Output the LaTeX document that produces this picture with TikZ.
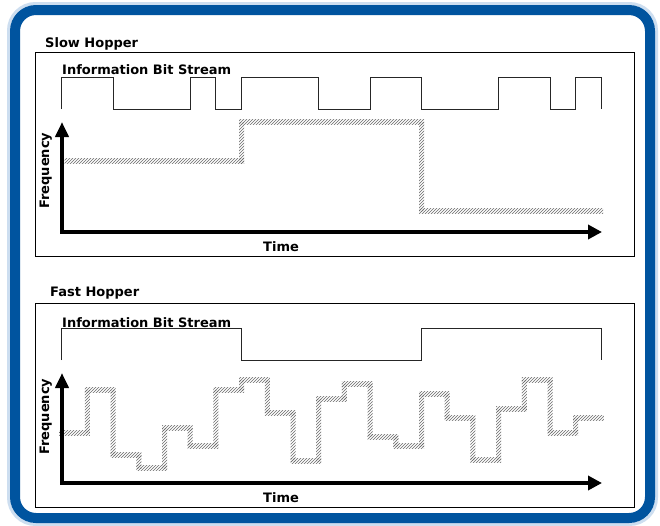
\documentclass[tikz,border=0pt]{standalone}
\usepackage{fontspec}
\setmainfont{DejaVu Sans}
\usetikzlibrary{arrows.meta,patterns}
\pgfdeclarepatternformonly{hatch}{\pgfqpoint{-1pt}{-1pt}}{\pgfqpoint{4pt}{4pt}}{\pgfqpoint{3pt}{3pt}}{%
  \pgfsetlinewidth{0.65pt}%
  \pgfpathmoveto{\pgfqpoint{0pt}{0pt}}%
  \pgfpathlineto{\pgfqpoint{3.1pt}{3.1pt}}%
  \pgfusepath{stroke}}
\definecolor{frameblue}{RGB}{0,84,159}
\definecolor{haloblue}{RGB}{205,222,240}
\begin{document}
\begin{tikzpicture}[x=1pt,y=-1pt,
  lbl/.style={font=\fontsize{13}{15}\selectfont\bfseries, inner sep=0pt, anchor=base west},
  panel/.style={draw=black, line width=0.8pt},
  bits/.style={draw=black!85, line width=1pt, line join=miter},
  axis/.style={line width=4pt, line join=miter,
    {Triangle[width=13pt,length=15pt]}-{Triangle[width=14pt,length=14pt]}},
  hatchband/.style={pattern=hatch, pattern color=black!58}]
\useasboundingbox (0,0) rectangle (660,525);
\fill[white] (0,0) rectangle (660,525);
% frame
\draw[haloblue, line width=3pt, rounded corners=27pt] (8.5,3.5) rectangle (656.5,524.5);
\draw[frameblue, line width=10pt, rounded corners=21pt] (15,10) rectangle (650,518);
% panels
\draw[panel] (35,52) rectangle (634,256);
\draw[panel] (35,303) rectangle (634,507);
% ---------- slow hopper ----------
\draw[bits] ({61.7},109) -- ({61.7},77)
  -- ({61.7+25.7*2},77) -- ({61.7+25.7*2},109)
  -- ({61.7+25.7*5},109) -- ({61.7+25.7*5},77)
  -- ({61.7+25.7*6},77) -- ({61.7+25.7*6},109)
  -- ({61.7+25.7*7},109) -- ({61.7+25.7*7},77)
  -- ({61.7+25.7*10},77) -- ({61.7+25.7*10},109)
  -- ({61.7+25.7*12},109) -- ({61.7+25.7*12},77)
  -- ({61.7+25.7*14},77) -- ({61.7+25.7*14},109)
  -- ({61.7+25.7*17},109) -- ({61.7+25.7*17},77)
  -- ({61.7+25.7*19},77) -- ({61.7+25.7*19},109)
  -- ({61.7+25.7*20},109) -- ({61.7+25.7*20},77)
  -- ({61.7+25.7*21},77) -- ({61.7+25.7*21},109);
% slow hatched frequency
\fill[hatchband] (64.5,158.5) rectangle ({61.7+25.7*7+2.5},163.5);
\fill[hatchband] ({61.7+25.7*7-2.5},163.5) rectangle ({61.7+25.7*7+2.5},122);
\fill[hatchband] ({61.7+25.7*7-2.5},119.5) rectangle ({61.7+25.7*14+2.5},124.5);
\fill[hatchband] ({61.7+25.7*14-2.5},122) rectangle ({61.7+25.7*14+2.5},211);
\fill[hatchband] ({61.7+25.7*14-2.5},208.5) rectangle (603,213.5);
% slow axes
\draw[axis] (62,122) -- (62,232) -- (602,232);
\node[lbl] (slowtitle) at (45,47.5) {Slow Hopper};
\node[lbl] (slowbits) at (62,74) {Information Bit Stream};
\node[lbl, rotate=90] (slowfreq) at (49,209) {Frequency};
\node[lbl] (slowtime) at (263,251.5) {Time};
% ---------- fast hopper ----------
\draw[bits] ({61.7},360) -- ({61.7},328)
  -- ({61.7+25.7*7},328) -- ({61.7+25.7*7},360)
  -- ({61.7+25.7*14},360) -- ({61.7+25.7*14},328)
  -- ({61.7+25.7*21},328) -- ({61.7+25.7*21},360);
% fast hatched frequency
\foreach \k/\y [remember=\y as \yp (initially 432.5)] in
  {1/432.5,2/390,3/455,4/468,5/428,6/446,7/390,8/380,9/412.5,10/461,
   11/399,12/384,13/436.5,14/446,15/394,16/418,17/460,18/409,19/380,20/432.5,21/418}{
  \fill[hatchband] ({61.7+25.7*(\k-1)-2.5},{\y-2.5}) rectangle ({61.7+25.7*\k+2.5},{\y+2.5});
  \fill[hatchband] ({61.7+25.7*(\k-1)-2.5},\yp) rectangle ({61.7+25.7*(\k-1)+2.5},\y);
}
% fast axes
\draw[axis] (62,373) -- (62,483) -- (602,483);
\node[lbl] (fasttitle) at (50,296) {Fast Hopper};
\node[lbl] (fastbits) at (62,327.5) {Information Bit Stream};
\node[lbl, rotate=90] (fastfreq) at (49,455) {Frequency};
\node[lbl] (fasttime) at (263,502.5) {Time};
\end{tikzpicture}
\end{document}
